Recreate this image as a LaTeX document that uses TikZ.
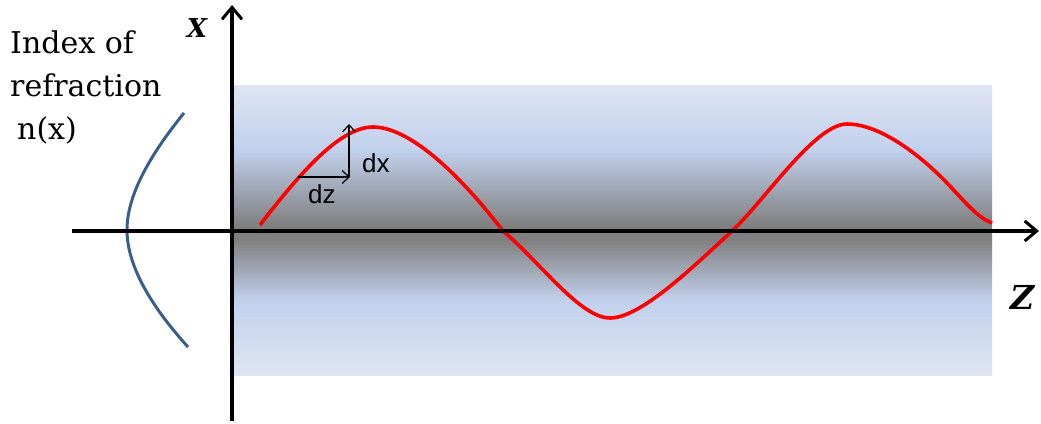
\documentclass[tikz,border=0pt]{standalone}
\usepackage{fontspec}
\newfontfamily\labelsans{Liberation Sans}
\newfontfamily\labelserif{DejaVu Serif}
\usepackage{tikz}
\usetikzlibrary{arrows.meta,positioning}
\definecolor{cladlight}{RGB}{223,229,243}
\definecolor{cladblue}{RGB}{193,208,236}
\definecolor{coregray}{RGB}{128,128,128}
\definecolor{indexblue}{RGB}{58,94,140}
\definecolor{rayred}{RGB}{255,0,0}
% vertical profile of the fibre (25bp = bottom edge, 75bp = top edge)
\pgfdeclareverticalshading{fibre}{100bp}{color(0bp)=(cladlight); color(25bp)=(cladlight);
  color(37.9bp)=(cladblue); color(48.3bp)=(coregray); color(50.9bp)=(coregray);
  color(63.8bp)=(cladblue); color(75bp)=(cladlight); color(100bp)=(cladlight)}

\begin{document}
\begin{tikzpicture}[x=1pt,y=-1pt,
    axis/.style={line width=3.5pt,-{Straight Barb[length=12pt,width=20pt,line width=3pt]}},
    small/.style={line width=1.4pt,-{Straight Barb[length=7pt,width=13pt,line width=1.2pt]}},
    ray/.style={rayred,line width=3.6pt},
    profile/.style={indexblue,line width=3pt},
    axlabel/.style={inner sep=0pt},
    dlabel/.style={font=\labelsans\fontsize{26}{30}\selectfont,inner sep=0pt}]
    \useasboundingbox (0,0) rectangle (1041,423);
    % fibre cross-section
    \shade[shading=fibre] (233,85) rectangle (992,375);
    % refractive index profile
    \draw[profile] (184,113) .. controls (150,155) and (127,195) .. (127,230)
      .. controls (127,265) and (150,305) .. (188,347);
    % ray path
    \draw[ray] (260,225) .. controls (300,173) and (340,127) .. (373,127)
      .. controls (410,127) and (460,175) .. (503,231)
      .. controls (540,262) and (580,318) .. (610,318)
      .. controls (640,318) and (690,270) .. (733,230)
      .. controls (765,200) and (815,124) .. (847,124)
      .. controls (880,124) and (920,155) .. (947,183)
      .. controls (965,202) and (978,218) .. (992,223);
    % axes
    \coordinate (xbot) at (232,421);
    \coordinate (xtop) at (232,5);
    \coordinate (zbeg) at (72,231);
    \coordinate (zend) at (1039,231);
    \draw[axis] (xbot) -- (xtop);
    \draw[axis] (zbeg) -- (zend);
    \node[axlabel,font=\labelserif\bfseries\itshape\fontsize{26}{30}\selectfont] (xlab) at (197,28) {X};
    \node[axlabel,font=\labelserif\bfseries\itshape\fontsize{33}{40}\selectfont] (zlab) at (1023,297) {Z};
    % dz, dx
    \coordinate (dzbeg) at (298,177);
    \coordinate (corner) at (350,177);
    \coordinate (dxend) at (349,124);
    \draw[small] (dzbeg) -- (corner);
    \draw[small] (349,177) -- (dxend);
    \node[dlabel,anchor=base west] (dx) at (362,172) {dx};
    \node[dlabel,anchor=base west] (dz) at (308,203) {dz};
    \node[anchor=north west,inner sep=0pt,align=left,font=\labelserif\fontsize{30}{43}\selectfont] (nlab) at (10,31)
      {Index of\\refraction\\\hspace*{7pt}n(x)};
\end{tikzpicture}
\end{document}
